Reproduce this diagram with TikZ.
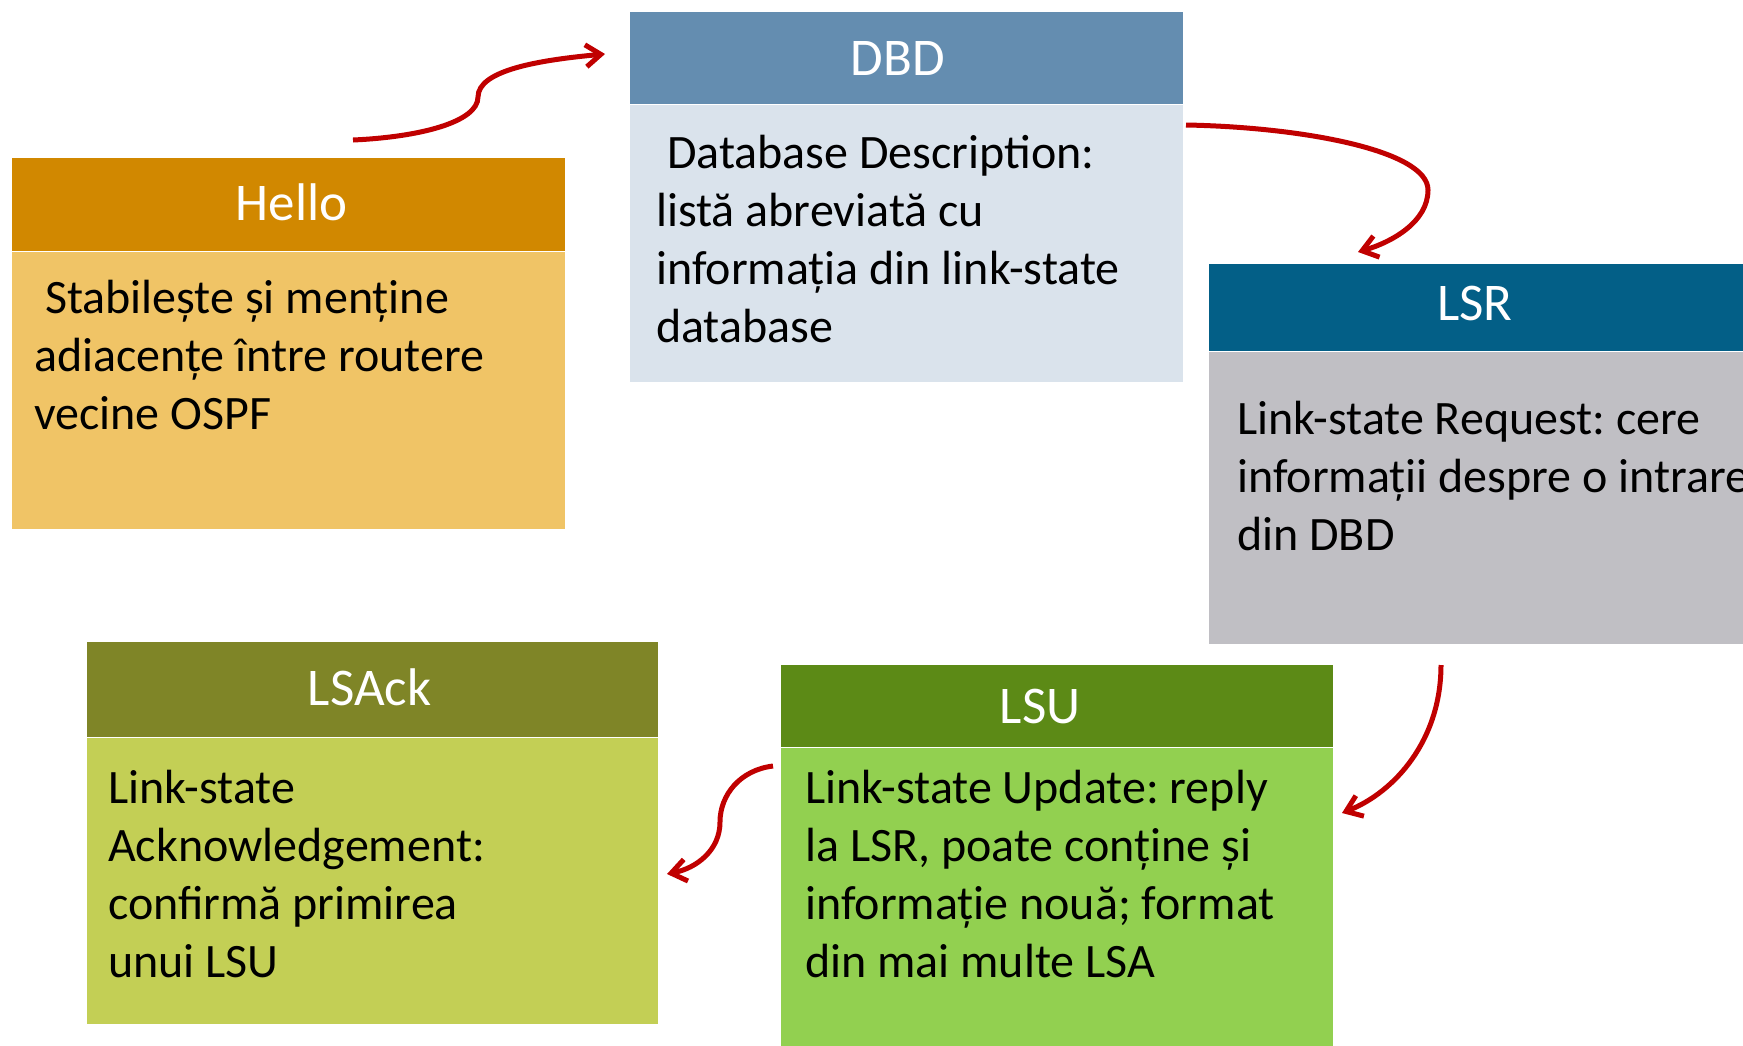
\documentclass[tikz,border=0pt]{standalone}
\usepackage{fontspec}
\setmainfont{Carlito}
\usetikzlibrary{positioning,arrows.meta}
\definecolor{hellohead}{RGB}{209,136,0}
\definecolor{hellofill}{RGB}{240,196,102}
\definecolor{dbdhead}{RGB}{100,141,176}
\definecolor{dbdfill}{RGB}{218,227,236}
\definecolor{lsrhead}{RGB}{3,95,135}
\definecolor{lsrfill}{RGB}{192,191,196}
\definecolor{ackhead}{RGB}{127,133,39}
\definecolor{ackfill}{RGB}{195,207,85}
\definecolor{lsuhead}{RGB}{92,138,22}
\definecolor{lsufill}{RGB}{146,208,80}
\definecolor{arrowred}{RGB}{192,0,0}
\tikzset{
  head/.style={rectangle, anchor=north west, inner sep=0pt},
  title/.style={inner sep=0pt, text=white,
    font=\fontsize{53}{60}\selectfont},
  body/.style={rectangle, inner sep=0pt},
  txt/.style={anchor=base west, align=left, inner sep=0pt,
    font=\fontsize{48}{58}\selectfont},
  flow/.style={arrowred, line width=5pt,
    -{Straight Barb[length=15pt,width=22pt]}}
}
\begin{document}
\frenchspacing
\begin{tikzpicture}[x=1pt,y=-1pt]
      \path[use as bounding box, clip] (0,0) rectangle (1743,1045);
      % Hello
      \node[head, fill=hellohead, minimum width=553pt, minimum height=93pt] (hello) at (12,158) {};
      \node[title] (hellotitle) at ([xshift=3pt,yshift=2pt]hello.center) {Hello};
      \node[body, fill=hellofill, minimum width=553pt, minimum height=277pt, below=0pt of hello] (hellobox) {};
      \node[txt] (hellotxt) at (34,429) {~Stabilește și menține\\adiacențe între routere\\vecine OSPF};
      % DBD
      \node[head, fill=dbdhead, minimum width=553pt, minimum height=92pt] (dbd) at (630,12) {};
      \node[title] (dbdtitle) at ([xshift=-9pt]dbd.center) {DBD};
      \node[body, fill=dbdfill, minimum width=553pt, minimum height=277pt, below=0pt of dbd] (dbdbox) {};
      \node[txt] (dbdtxt) at (656,342) {~Database Description:\\listă abreviată cu\\informația din link-state\\database};
      % LSR
      \node[head, fill=lsrhead, minimum width=553pt, minimum height=87pt] (lsr) at (1209,264) {};
      \node[title] (lsrtitle) at ([xshift=-11pt,yshift=4pt]lsr.center) {LSR};
      \node[body, fill=lsrfill, minimum width=553pt, minimum height=292pt, below=0pt of lsr] (lsrbox) {};
      \node[txt] (lsrtxt) at (1237,550) {Link-state Request: cere\\informații despre o intrare\\din DBD};
      % LSAck
      \node[head, fill=ackhead, minimum width=571pt, minimum height=95pt] (lsack) at (87,642) {};
      \node[title] (lsacktitle) at ([xshift=-3pt,yshift=2pt]lsack.center) {LSAck};
      \node[body, fill=ackfill, minimum width=571pt, minimum height=286pt, below=0pt of lsack] (lsackbox) {};
      \node[txt] (lsacktxt) at (108,977) {Link-state\\Acknowledgement:\\confirmă primirea\\unui LSU};
      % LSU
      \node[head, fill=lsuhead, minimum width=552pt, minimum height=82pt] (lsu) at (781,665) {};
      \node[title] (lsutitle) at ([xshift=-17pt]lsu.center) {LSU};
      \node[body, fill=lsufill, minimum width=552pt, minimum height=320pt, below=0pt of lsu] (lsubox) {};
      \node[txt] (lsutxt) at (805,977) {Link-state Update: reply\\la LSR, poate conține și\\informație nouă; format\\din mai multe LSA};
      % arrows
      \coordinate (hello out) at (353,140);
      \coordinate (dbd in) at (605,54);
      \coordinate (dbd out) at (1186,125);
      \coordinate (lsr in) at (1358,252);
      \coordinate (lsr out) at (1441,665);
      \coordinate (lsu in) at (1342,813);
      \coordinate (lsu out) at (773,766);
      \coordinate (lsack in) at (667,874);
      \draw[flow] (hello out) .. controls (420,137) and (478,122) .. (478,97)
        .. controls (478,70) and (540,60) .. (dbd in);
      \draw[flow] (dbd out) .. controls (1300,127) and (1428,150) .. (1428,190)
        .. controls (1428,222) and (1392,242) .. (lsr in);
      \draw[flow] (lsr out) .. controls (1441,740) and (1395,792) .. (lsu in);
      \draw[flow] (lsu out) .. controls (740,770) and (720,795) .. (720,822)
        .. controls (720,850) and (697,868) .. (lsack in);
\end{tikzpicture}
\end{document}
